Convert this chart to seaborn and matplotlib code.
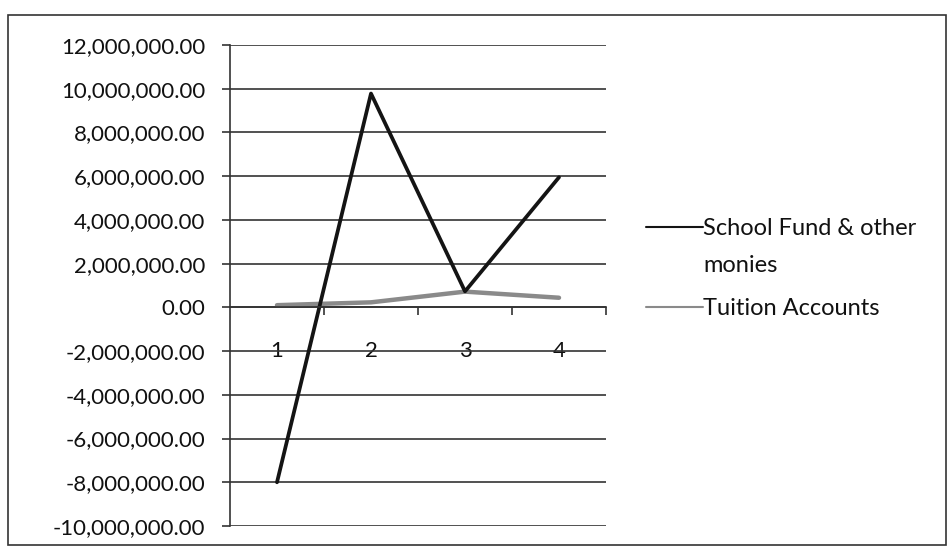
import matplotlib
matplotlib.use('Agg')
import matplotlib.pyplot as plt
import matplotlib.ticker as mtick
from matplotlib.patches import Rectangle
import numpy as np
import pandas as pd
import seaborn as sns

# values
periods = [1, 2, 3, 4]
school_fund = [-8000000, 9780000, 730000, 5950000]
tuition = [100000, 230000, 720000, 440000]
series_names = ['School Fund & other monies', 'Tuition Accounts']

Data = pd.DataFrame({
    'Period': periods * 2,
    'Amount': school_fund + tuition,
    'Series': [series_names[0]] * 4 + [series_names[1]] * 4,
})

sns.set_theme(style='white')
plt.rcParams['font.family'] = ['Lato', 'DejaVu Sans']
plt.rcParams['axes.unicode_minus'] = False

fig = plt.figure(figsize=(9.5, 5.51), dpi=100)
ax = fig.add_axes([230 / 950, 1 - 526 / 551, 376 / 950, 481 / 551])

sns.lineplot(data=Data, x='Period', y='Amount', hue='Series',
             palette=['#141414', '#8a8a8a'], ax=ax, legend=True)
ax.lines[0].set_linewidth(2.7)
ax.lines[1].set_linewidth(3.2)
ax.lines[1].set_zorder(1)

ax.set_xlim(0.5, 4.5)
ax.set_ylim(-10000000, 12000000)
ax.yaxis.set_major_locator(mtick.MultipleLocator(2000000))
ax.yaxis.set_major_formatter(mtick.StrMethodFormatter('{x:,.2f}'))
ax.grid(axis='y', color='#333333', linewidth=1.2)
ax.set_axisbelow(True)

# category axis crosses at zero, like the Excel original
ax.spines['bottom'].set_position(('data', 0))
ax.spines['top'].set_visible(False)
ax.spines['right'].set_visible(False)
for s in ['bottom', 'left']:
    ax.spines[s].set_color('#333333')
    ax.spines[s].set_linewidth(1.2)

ax.set_xticks(periods)
ax.set_xticks([1.5, 2.5, 3.5, 4.5], minor=True)
ax.tick_params(axis='x', which='major', length=0, pad=24, labelsize=16, colors='#111111')
ax.tick_params(axis='x', which='minor', length=6, width=1.2, direction='out', color='#333333', bottom=True)
ax.tick_params(axis='y', length=6, width=1.2, direction='out', left=True, color='#333333',
               labelsize=16, labelcolor='#111111', pad=12)
ax.set_xlabel('')
ax.set_ylabel('')

# legend: first label wraps onto a second line under the text, handle stays on the first line
handles, labels = ax.get_legend_handles_labels()
labels = ['School Fund & other', 'Tuition Accounts']
leg = ax.legend(handles, labels, loc='center left', bbox_to_anchor=(1.05, 0.535),
                frameon=False, fontsize=17, handlelength=2.4, handletextpad=0.02,
                labelspacing=2.5)
for t in leg.get_texts():
    t.set_color('#111111')

fig.canvas.draw()
bb = leg.get_texts()[0].get_window_extent()
x0, y0 = fig.transFigure.inverted().transform((bb.x0, bb.y0))
fig.text(x0, y0 - 37 / 551, 'monies', fontsize=17, color='#111111', va='bottom', ha='left')

# outer chart border
fig.patches.append(Rectangle((8 / 950, 1 - 545 / 551), 938 / 950, 530 / 551,
                             transform=fig.transFigure, fill=False,
                             edgecolor='#333333', linewidth=1.2))

plt.savefig('out.png', dpi=100)
